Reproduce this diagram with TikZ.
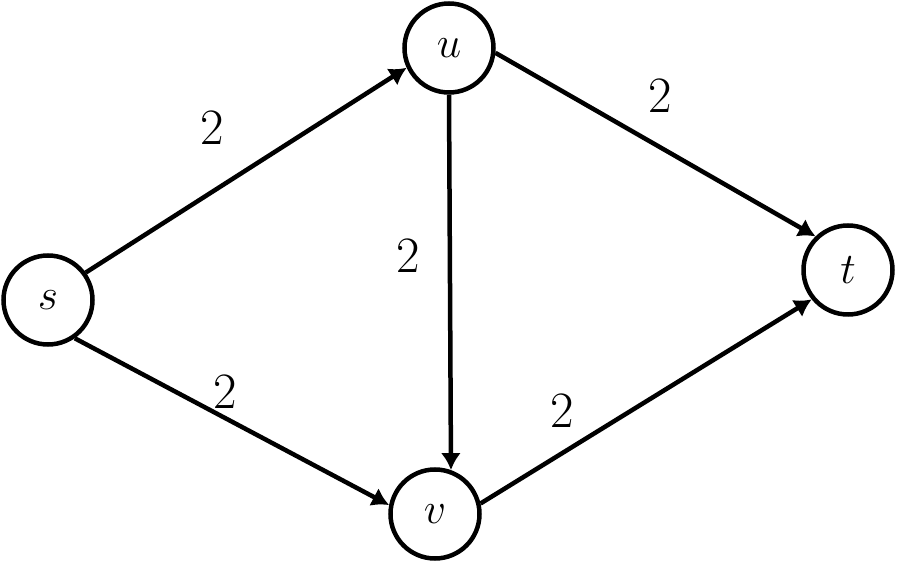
\documentclass[tikz,border=0pt]{standalone}
\usepackage{tikz}
\usetikzlibrary{arrows.meta,positioning}

\begin{document}
\begin{tikzpicture}[
            vertex/.style={circle, draw, line width=0.09cm, minimum size=1.78cm, inner sep=0pt, font=\fontsize{29}{34}\selectfont},
            lbl/.style={font=\fontsize{29}{34}\selectfont, inner sep=0pt},
            arrow/.style={-{Latex[length=0.34cm,width=0.4cm]}, line width=0.09cm}
        ]
            \useasboundingbox (0,0) rectangle (17.94,11.28);

            % --- VERTICES ---
            \node[vertex] (s) at (0.96,5.28) {$s$};
            \node[vertex] (u) at (8.98,10.32) {$u$};
            \node[vertex] (v) at (8.70,1.00) {$v$};
            \node[vertex] (t) at (16.96,5.88) {$t$};

            % --- EDGES ---
            \draw[arrow] (s.36) -- node[lbl, xshift=-0.68cm, yshift=0.84cm] {2} (u.205);
            \draw[arrow] (s.-55) -- node[lbl, xshift=-0.14cm, yshift=0.61cm] {2} (v.169);
            \draw[arrow] (u.south) -- node[lbl, xshift=-0.84cm, yshift=0.54cm] {2} (v.70);
            \draw[arrow] (u.-6) -- node[lbl, xshift=0.09cm, yshift=0.98cm] {2} (t.134);
            \draw[arrow] (v.13) -- node[lbl, xshift=-1.68cm, yshift=-0.18cm] {2} (t.219);

        \end{tikzpicture}
\end{document}
